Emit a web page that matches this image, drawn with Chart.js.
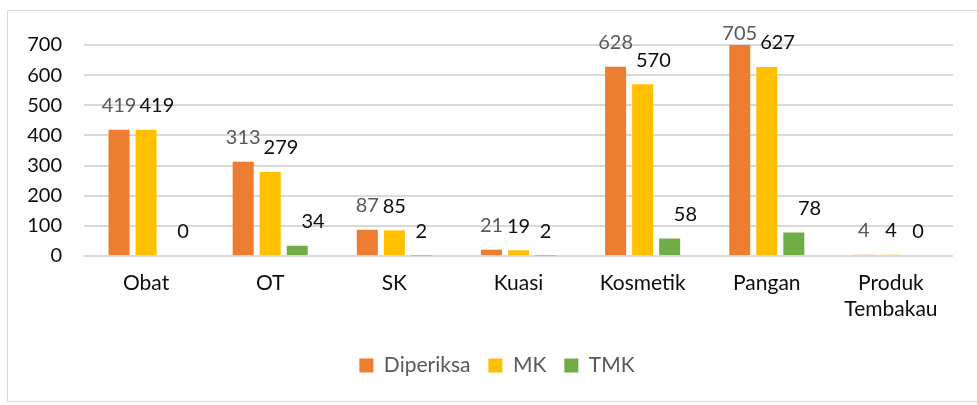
<!DOCTYPE html>
<html>
<head>
<meta charset="utf-8">
<script src="https://cdn.jsdelivr.net/npm/chart.js@4.4.1/dist/chart.umd.min.js"></script>
<style>
  html, body { margin: 0; padding: 0; background: #fff; overflow: hidden; }
  #box {
    position: absolute; left: 7px; top: 10px;
    width: 978px; height: 390px;
    border: 1px solid #d9d9d9;
  }
</style>
</head>
<body>
<div id="box"><canvas id="chartCanvas" width="978" height="390"></canvas></div>
<script>
var categories = ["Obat", "OT", "SK", "Kuasi", "Kosmetik", "Pangan", ["Produk", "Tembakau"]];
var diperiksa = [419, 313, 87, 21, 628, 705, 4];
var mk = [419, 279, 85, 19, 570, 627, 4];
var tmk = [0, 34, 2, 2, 58, 78, 0];
var labelColors = ["#595959", "#0d0d0d", "#0d0d0d"];

var fontFamily = "Lato, 'Open Sans', sans-serif";

// draws the value above every bar; a label that would run into the one
// on its left is pushed right, and labels stay inside the top of the box
var valueLabels = {
    id: 'valueLabels',
    afterDatasetsDraw: function (chart) {
        var ctx = chart.ctx;
        ctx.save();
        ctx.font = "20px " + fontFamily;
        ctx.textAlign = 'center';
        ctx.textBaseline = 'middle';
        var prevRight = [];
        chart.data.datasets.forEach(function (dataset, i) {
            var meta = chart.getDatasetMeta(i);
            ctx.fillStyle = labelColors[i];
            meta.data.forEach(function (bar, j) {
                var text = String(dataset.data[j]);
                var w = ctx.measureText(text).width;
                var x = bar.x;
                if (i > 0 && x - w / 2 < prevRight[j] + 3) {
                    x = prevRight[j] + 3 + w / 2;
                }
                prevRight[j] = x + w / 2;
                var y = Math.max(bar.y - 24, chart.chartArea.top - 11);
                ctx.fillText(text, x, y);
            });
        });
        ctx.restore();
    }
};

var ctx = document.getElementById('chartCanvas').getContext('2d');
var chart = new Chart(ctx, {
    type: 'bar',
    data: {
        labels: categories,
        datasets: [
            { label: "Diperiksa", data: diperiksa, backgroundColor: '#ED7D31' },
            { label: "MK", data: mk, backgroundColor: '#FFC000' },
            { label: "TMK", data: tmk, backgroundColor: '#70AD47' }
        ]
    },
    options: {
        responsive: false,
        animation: false,
        categoryPercentage: 0.653,
        barPercentage: 0.778,
        layout: { padding: { left: 0, right: 0, top: 30, bottom: 15 } },
        scales: {
            x: {
                grid: { display: false },
                border: { display: false },
                ticks: {
                    color: '#0d0d0d',
                    padding: 6,
                    maxRotation: 0,
                    autoSkip: false,
                    font: { family: fontFamily, size: 21, lineHeight: 1.25 }
                },
                afterFit: function (scale) { scale.height = 81; }
            },
            y: {
                min: 0,
                max: 700,
                ticks: {
                    stepSize: 100,
                    color: '#0d0d0d',
                    padding: 22,
                    font: { family: fontFamily, size: 20 }
                },
                grid: { color: '#d9d9d9', lineWidth: 2, drawTicks: false },
                border: { display: false },
                afterFit: function (scale) { scale.width = 76; }
            },
            // empty right margin, so the legend centres on the whole box
            spacer: {
                position: 'right',
                grid: { display: false },
                ticks: { display: false },
                border: { display: false },
                afterFit: function (scale) { scale.width = 33; }
            }
        },
        plugins: {
            legend: {
                position: 'bottom',
                labels: {
                    boxWidth: 14,
                    boxHeight: 14,
                    padding: 18,
                    color: '#595959',
                    font: { family: fontFamily, size: 21 }
                }
            },
            tooltip: { enabled: false }
        }
    },
    plugins: [valueLabels]
});
</script>
</body>
</html>
